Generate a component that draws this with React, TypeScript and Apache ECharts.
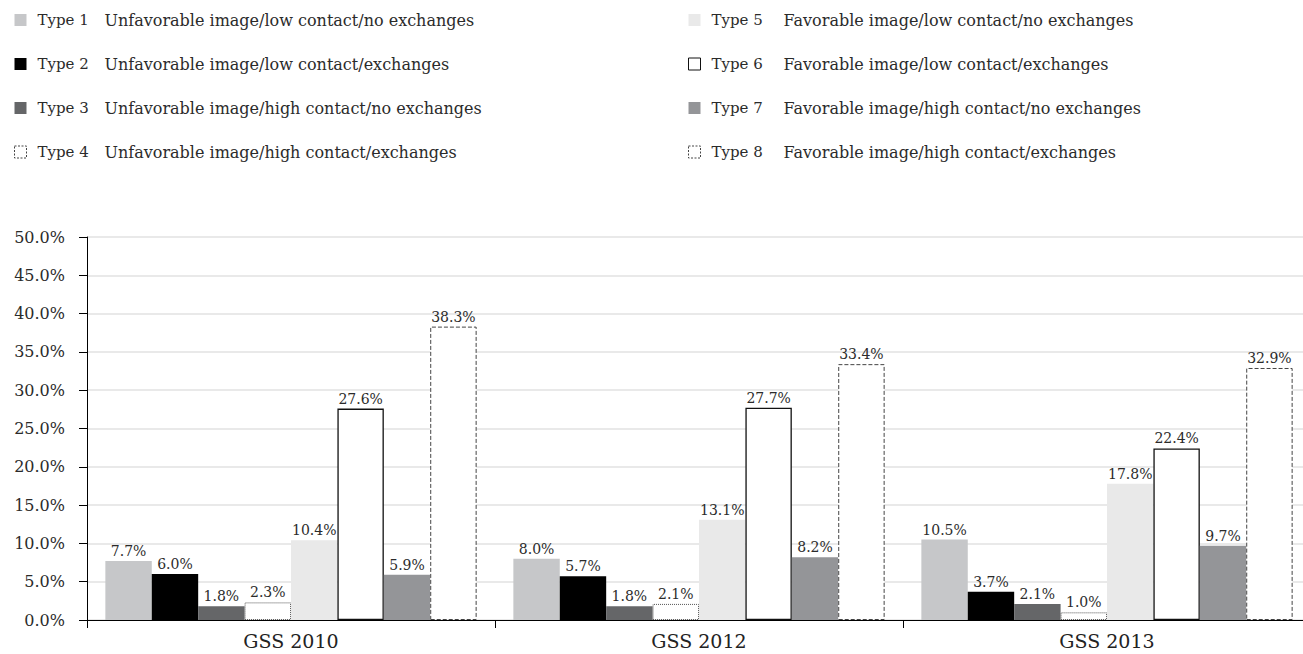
import React, { useEffect, useRef } from "react";
import * as echarts from "echarts";

const categories = ["GSS 2010", "GSS 2012", "GSS 2013"];

const typeNames = ["Type 1", "Type 2", "Type 3", "Type 4", "Type 5", "Type 6", "Type 7", "Type 8"];

const typeDescriptions = [
  "Unfavorable image/low contact/no exchanges",
  "Unfavorable image/low contact/exchanges",
  "Unfavorable image/high contact/no exchanges",
  "Unfavorable image/high contact/exchanges",
  "Favorable image/low contact/no exchanges",
  "Favorable image/low contact/exchanges",
  "Favorable image/high contact/no exchanges",
  "Favorable image/high contact/exchanges",
];

// Share of respondents (%) per type, for GSS 2010, 2012, 2013
const type1 = [7.7, 8.0, 10.5];
const type2 = [6.0, 5.7, 3.7];
const type3 = [1.8, 1.8, 2.1];
const type4 = [2.3, 2.1, 1.0];
const type5 = [10.4, 13.1, 17.8];
const type6 = [27.6, 27.7, 22.4];
const type7 = [5.9, 8.2, 9.7];
const type8 = [38.3, 33.4, 32.9];

const seriesValues = [type1, type2, type3, type4, type5, type6, type7, type8];

const FONT = "'DejaVu Serif', serif";
const TEXT = "#2b2b2b";

const barStyles: any[] = [
  { color: "#c6c7c9" },
  { color: "#000000" },
  { color: "#656668" },
  { color: "#ffffff", borderColor: "#555555", borderWidth: 1, borderType: "dotted" },
  { color: "#e9e9e9" },
  { color: "#ffffff", borderColor: "#111111", borderWidth: 1.3, borderType: "solid" },
  { color: "#949598" },
  { color: "#ffffff", borderColor: "#444444", borderWidth: 1, borderType: "dashed" },
];

// Legend swatches: same fills, thinner outlines for the white ones
const legendSwatches: any[] = [
  { color: "#c6c7c9", borderWidth: 0 },
  { color: "#000000", borderWidth: 0 },
  { color: "#656668", borderWidth: 0 },
  { color: "#ffffff", borderColor: "#444444", borderWidth: 1, borderType: [2, 1.5] },
  { color: "#e9e9e9", borderWidth: 0 },
  { color: "#ffffff", borderColor: "#111111", borderWidth: 1, borderType: "solid" },
  { color: "#949598", borderWidth: 0 },
  { color: "#ffffff", borderColor: "#444444", borderWidth: 1, borderType: [2, 1.5] },
];

export default function App() {
  const ref = useRef<HTMLDivElement>(null);

  useEffect(() => {
    if (!ref.current) return;
    const chart = echarts.init(ref.current, undefined, { renderer: "svg" });

    const descOf: Record<string, string> = {};
    typeNames.forEach((n, i) => (descOf[n] = typeDescriptions[i]));

    const makeLegend = (from: number, left: number, typeWidth: number) => ({
      orient: "vertical",
      top: 10,
      left,
      padding: 0,
      itemWidth: 12,
      itemHeight: 12,
      itemGap: 24,
      icon: "rect",
      selectedMode: false,
      data: typeNames.slice(from, from + 4).map((name, k) => ({
        name,
        itemStyle: legendSwatches[from + k],
      })),
      formatter: (name: string) => `{a|${name}}{b|${descOf[name]}}`,
      textStyle: {
        fontFamily: FONT,
        fontSize: 15,
        color: TEXT,
        lineHeight: 20,
        rich: {
          a: { fontFamily: FONT, fontSize: 15, color: TEXT, width: typeWidth, padding: [0, 0, 0, 6] },
          b: { fontFamily: FONT, fontSize: 16, color: TEXT },
        },
      },
    });

    chart.setOption({
      animation: false,
      legend: [makeLegend(0, 14, 67), makeLegend(4, 688, 72)],
      grid: { left: 87, top: 237, width: 1224, bottom: 34, containLabel: false },
      xAxis: {
        type: "category",
        data: categories,
        axisLine: { lineStyle: { color: "#000", width: 1 } },
        axisTick: { show: true, length: 8, interval: 0, lineStyle: { color: "#000" } },
        axisLabel: { fontFamily: FONT, fontSize: 19, color: "#222", margin: 11 },
      },
      yAxis: {
        type: "value",
        min: 0,
        max: 50,
        interval: 5,
        axisLine: { show: true, lineStyle: { color: "#000", width: 1 } },
        axisTick: { show: true, length: 8, lineStyle: { color: "#000" } },
        axisLabel: {
          fontFamily: FONT,
          fontSize: 16,
          color: TEXT,
          margin: 22,
          formatter: (v: number) => `${v.toFixed(1)}%`,
        },
        splitLine: { lineStyle: { color: "#e2e2e2", width: 1.5 } },
      },
      series: typeNames.map((name, i) => ({
        name,
        type: "bar",
        data: seriesValues[i],
        barGap: "0%",
        barCategoryGap: "9%",
        itemStyle: barStyles[i],
        label: {
          show: true,
          position: "top",
          distance: 3,
          fontFamily: FONT,
          fontSize: 14,
          color: TEXT,
          formatter: (p: any) => `${Number(p.value).toFixed(1)}%`,
        },
      })),
    });

    return () => chart.dispose();
  }, []);

  return (
    <div style={{ position: "fixed", left: 0, top: 0, width: "100vw", height: "100vh", overflow: "hidden", background: "#fff" }}>
      <div ref={ref} style={{ width: 1320, height: 654 }} />
    </div>
  );
}
